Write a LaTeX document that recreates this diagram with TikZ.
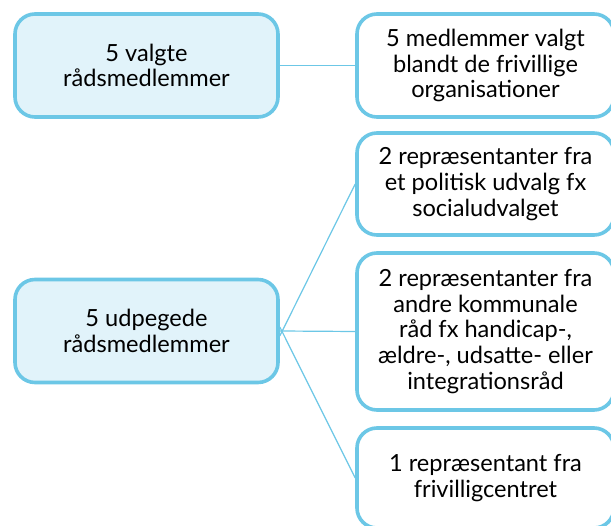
\documentclass[tikz,border=0pt]{standalone}
\usepackage{fontspec}
\setmainfont{Lato}
\definecolor{boxblue}{HTML}{6CC7E6}
\definecolor{boxfill}{HTML}{E1F3FA}
\tikzset{
  mbox/.style={draw=boxblue, line width=3.6pt, rounded corners=20pt, align=center,
    font=\fontsize{23.6pt}{25.8pt}\selectfont, text=black, inner sep=0pt, anchor=center},
  leftbox/.style={mbox, fill=boxfill, minimum width=263pt, minimum height=103pt},
  rightbox/.style={mbox, fill=white, minimum width=257pt},
  conn/.style={draw=boxblue, line width=1.2pt}
}
\begin{document}
\begin{tikzpicture}[x=1pt,y=-1pt]
\useasboundingbox (0,0) rectangle (611,526);
\clip (0,0) rectangle (611,526);
\node[leftbox] (valgte) at (146.5,65.5) {5 valgte\\rådsmedlemmer};
\node[leftbox] (udpeg) at (146.5,331) {5 udpegede\\rådsmedlemmer};
\node[rightbox, minimum height=103pt] (org) at (485.5,65.5) {5 medlemmer valgt\\blandt de frivillige\\organisationer};
\node[rightbox, minimum height=102pt] (pol) at (485.5,184) {2 repræsentanter fra\\et politisk udvalg fx\\socialudvalget};
\node[rightbox, minimum height=157pt] (raad) at (485.5,331.5) {2 repræsentanter fra\\andre kommunale\\råd fx handicap-,\\ældre-, udsatte- eller\\integrationsråd};
\node[rightbox, minimum height=100pt] (fc) at (485.5,478) {1 repræsentant fra\\frivilligcentret};
\draw[conn] (valgte.east) -- (org.west);
\draw[conn] ([yshift=-5pt]udpeg.east) -- (pol.west);
\draw[conn] (udpeg.east) -- (raad.west);
\draw[conn] ([yshift=4pt]udpeg.east) -- (fc.west);
\end{tikzpicture}
\end{document}
